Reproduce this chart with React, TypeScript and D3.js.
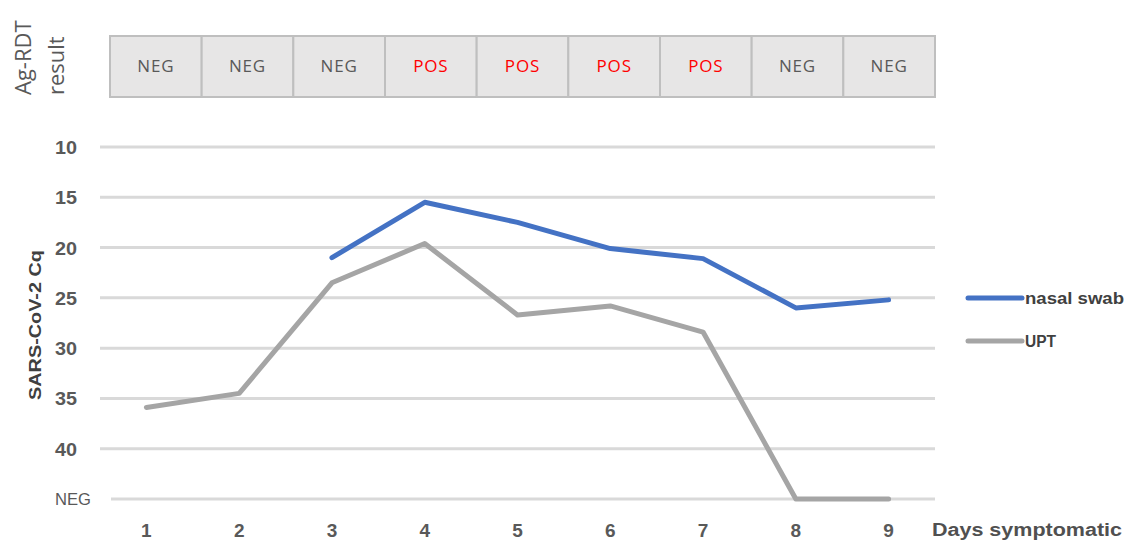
import React, { useEffect, useRef } from 'react';
import * as d3 from 'd3';

const days = ['1', '2', '3', '4', '5', '6', '7', '8', '9'];
const rdtResults = ['NEG', 'NEG', 'NEG', 'POS', 'POS', 'POS', 'POS', 'NEG', 'NEG'];
// Cq values; 'NEG' = not detected, null = not sampled
const nasalSwab: (number | string | null)[] = [null, null, 21.0, 15.5, 17.5, 20.1, 21.1, 26.0, 25.2];
const upt: (number | string | null)[] = [35.9, 34.5, 23.5, 19.6, 26.7, 25.8, 28.4, 'NEG', 'NEG'];
const yTicks = [10, 15, 20, 25, 30, 35, 40, 45];
const yTickLabels = ['10', '15', '20', '25', '30', '35', '40', 'NEG'];
const NEG_VALUE = 45;

const series = [
  { name: 'nasal swab', values: nasalSwab, color: '#4472C4' },
  { name: 'UPT', values: upt, color: '#A5A5A5' },
];

export default function App() {
  const svgRef = useRef<SVGSVGElement>(null);

  useEffect(() => {
    if (!svgRef.current) return;
    const svg = d3.select(svgRef.current);
    svg.selectAll('*').remove();

    const W = 1128, H = 544;
    const x = d3.scaleBand<string>().domain(days).range([100, 935]);
    const y = d3.scaleLinear().domain([10, 45]).range([147, 499]);
    const tableX = d3.scaleBand<string>().domain(days).range([110, 935]);
    const sans = '"Liberation Sans", Arial, sans-serif';

    svg.append('rect').attr('width', W).attr('height', H).attr('fill', '#fff');

    /* ── Ag-RDT table ─────────────────────────────────────────────── */
    const label = svg.append('g').attr('fill', '#595959')
      .attr('font-family', '"Open Sans", sans-serif').attr('font-size', 22);
    label.append('text').attr('transform', 'translate(31,95) rotate(-90)').text('Ag-RDT');
    label.append('text').attr('transform', 'translate(64,95) rotate(-90)').text('result');

    const cells = svg.append('g').selectAll('g').data(days).enter().append('g');
    cells.append('rect')
      .attr('x', d => tableX(d)!)
      .attr('y', 36)
      .attr('width', tableX.bandwidth())
      .attr('height', 61)
      .attr('fill', '#E7E6E6')
      .attr('stroke', '#BFBFBF')
      .attr('stroke-width', 2);
    cells.append('text')
      .attr('x', d => tableX(d)! + tableX.bandwidth() / 2)
      .attr('y', 72)
      .attr('text-anchor', 'middle')
      .attr('font-family', '"Open Sans", sans-serif')
      .attr('font-size', 17)
      .attr('letter-spacing', '0.05em')
      .attr('fill', (_, i) => rdtResults[i] === 'POS' ? '#FF0000' : '#595959')
      .text((_, i) => rdtResults[i]);

    /* ── Grid ─────────────────────────────────────────────────────── */
    svg.append('g').selectAll('line').data(yTicks).enter().append('line')
      .attr('x1', d => d === NEG_VALUE ? 111 : 100)
      .attr('x2', 935)
      .attr('y1', d => y(d))
      .attr('y2', d => y(d))
      .attr('stroke', '#D9D9D9')
      .attr('stroke-width', 3);

    svg.append('g').selectAll('text').data(yTicks).enter().append('text')
      .attr('x', 55)
      .attr('y', (d, i) => y(d) + (yTickLabels[i] === 'NEG' ? 6 : 7))
      .attr('fill', '#595959')
      .attr('font-family', sans)
      .attr('font-size', (_, i) => yTickLabels[i] === 'NEG' ? 17 : 19)
      .attr('font-weight', (_, i) => yTickLabels[i] === 'NEG' ? 'normal' : 'bold')
      .attr('textLength', (_, i) => yTickLabels[i] === 'NEG' ? 36 : 22)
      .attr('lengthAdjust', 'spacingAndGlyphs')
      .text((_, i) => yTickLabels[i]);

    svg.append('text')
      .attr('transform', 'translate(41,325) rotate(-90)')
      .attr('text-anchor', 'middle')
      .attr('fill', '#404040')
      .attr('font-family', sans)
      .attr('font-size', 16)
      .attr('font-weight', 'bold')
      .attr('textLength', 150)
      .attr('lengthAdjust', 'spacingAndGlyphs')
      .text('SARS-CoV-2 Cq');

    svg.append('g').selectAll('text').data(days).enter().append('text')
      .attr('x', d => x(d)! + x.bandwidth() / 2)
      .attr('y', 537)
      .attr('text-anchor', 'middle')
      .attr('fill', '#595959')
      .attr('font-family', sans)
      .attr('font-size', 19)
      .attr('font-weight', 'bold')
      .text(d => d);

    svg.append('text')
      .attr('x', 932)
      .attr('y', 536)
      .attr('fill', '#505050')
      .attr('font-family', sans)
      .attr('font-size', 18)
      .attr('font-weight', 'bold')
      .attr('textLength', 190)
      .attr('lengthAdjust', 'spacingAndGlyphs')
      .text('Days symptomatic');

    /* ── Lines ────────────────────────────────────────────────────── */
    const toNum = (v: number | string | null) => v === 'NEG' ? NEG_VALUE : (v as number | null);
    const line = d3.line<{ day: string; v: number | null }>()
      .defined(d => d.v !== null)
      .x(d => x(d.day)! + x.bandwidth() / 2)
      .y(d => y(d.v as number));

    series.forEach(s => {
      const pts = days.map((day, i) => ({ day, v: toNum(s.values[i]) }));
      svg.append('path')
        .attr('d', line(pts)!)
        .attr('fill', 'none')
        .attr('stroke', s.color)
        .attr('stroke-width', 5)
        .attr('stroke-linejoin', 'round')
        .attr('stroke-linecap', 'round');
    });

    /* ── Legend ───────────────────────────────────────────────────── */
    const lg = svg.append('g').selectAll('g').data(series).enter().append('g')
      .attr('transform', (_, i) => `translate(968,${298 + i * 43})`);
    lg.append('line')
      .attr('x1', 0).attr('x2', 54)
      .attr('stroke', d => d.color)
      .attr('stroke-width', 5)
      .attr('stroke-linecap', 'round');
    lg.append('text')
      .attr('x', 57)
      .attr('y', 6)
      .attr('fill', '#404040')
      .attr('font-family', sans)
      .attr('font-size', 16)
      .attr('font-weight', 'bold')
      .attr('textLength', (d, i) => i === 0 ? 99 : 31)
      .attr('lengthAdjust', 'spacingAndGlyphs')
      .text(d => d.name);
  }, []);

  return (
    <svg ref={svgRef} width={1128} height={544}
      style={{ position: 'absolute', left: 0, top: 0, display: 'block' }} />
  );
}
